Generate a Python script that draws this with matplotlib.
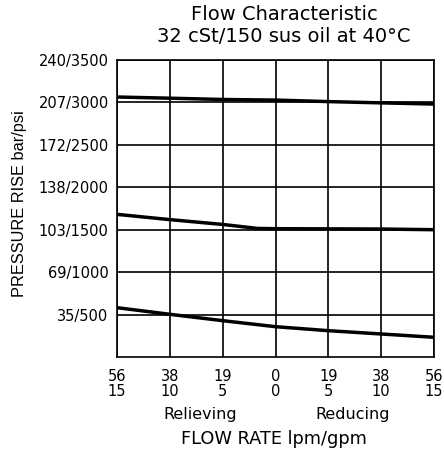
import numpy as np
import matplotlib.pyplot as plt

plt.rcParams['font.family'] = ['DejaVu Sans']

# flow in gpm, negative = relieving side
flow = [-15, -10, -5, -1.7, 0, 5, 10, 15]
top_psi = [3064, 3050, 3035, 3030, 3028, 3010, 2995, 2981]
mid_psi = [1681, 1619, 1562, 1515, 1512, 1510, 1508, 1500]
low_flow = [-15, -10, -5, 0, 5, 10, 15]
low_psi = [581, 503, 428, 357, 310, 271, 232]

xticks = [-15, -10, -5, 0, 5, 10, 15]
xlabels = ['56\n15', '38\n10', '19\n5', '0\n0', '19\n5', '38\n10', '56\n15']
yticks = [500, 1000, 1500, 2000, 2500, 3000, 3500]
ylabels = ['35/500', '69/1000', '103/1500', '138/2000', '172/2500', '207/3000', '240/3500']

fig = plt.figure(figsize=(4.44, 4.54), dpi=100)
ax = fig.add_axes([0.2635, 0.2137, 0.714, 0.6541])

ax.plot(flow, top_psi, color='black', lw=2.5, solid_capstyle='butt')
ax.plot(flow, mid_psi, color='black', lw=2.5, solid_capstyle='butt')
ax.plot(low_flow, low_psi, color='black', lw=2.5, solid_capstyle='butt')

ax.set_xlim(-15, 15)
ax.set_ylim(0, 3500)
ax.set_xticks(xticks)
ax.set_xticklabels(xlabels, fontsize=10.5, linespacing=0.95)
ax.set_yticks(yticks)
ax.set_yticklabels(ylabels, fontsize=10.5)
ax.tick_params(axis='y', length=0, pad=6)
ax.tick_params(axis='x', length=0, pad=9)
ax.grid(True, color='black', lw=1.2)
for s in ax.spines.values():
    s.set_linewidth(1.2)

ax.set_ylabel('PRESSURE RISE bar/psi', fontsize=11.8, family='Liberation Sans')
ax.yaxis.set_label_coords(-0.285, 0.515)
fig.text(200 / 444, 1 - 415 / 454, 'Relieving', ha='center', va='center', fontsize=11.5)
fig.text(353 / 444, 1 - 415 / 454, 'Reducing', ha='center', va='center', fontsize=11.5)
fig.text(274 / 444, 1 - 439 / 454, 'FLOW RATE lpm/gpm', ha='center', va='center', fontsize=12.8)
fig.text(284 / 444, 1 - 14 / 454, 'Flow Characteristic', ha='center', va='center', fontsize=14)
fig.text(284 / 444, 1 - 37 / 454, '32 cSt/150 sus oil at 40°C', ha='center', va='center', fontsize=14)

fig.savefig('out.png', dpi=100)
